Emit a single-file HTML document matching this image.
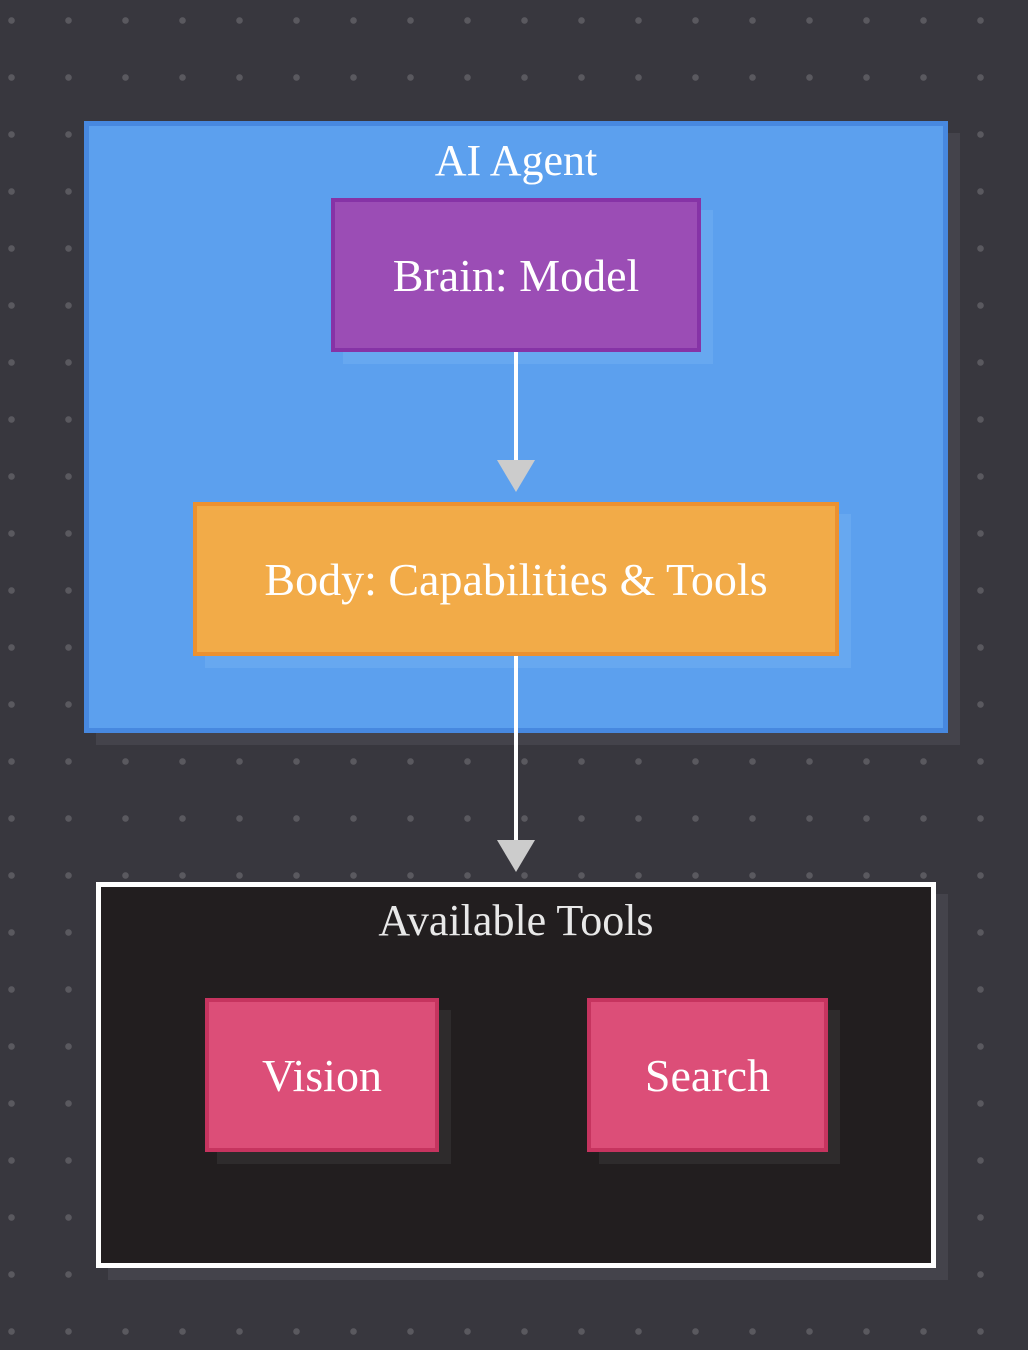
<!DOCTYPE html>
<html><head><style>
body{margin:0;width:1028px;height:1350px;background:#38373e;background-image:radial-gradient(circle,#5a595f 3px,transparent 3.5px);background-size:57px 57px;background-position:-17px -8px;position:relative;overflow:hidden;font-family:"Liberation Serif",serif;color:#fff}
.a{position:absolute;box-sizing:border-box}
.t{display:flex;align-items:center;justify-content:center;font-size:46px}
</style></head><body>
<div class="a" style="left:96px;top:133px;width:864px;height:612px;background:#44434b"></div>
<div class="a" style="left:84px;top:121px;width:864px;height:612px;background:#5ca0ee;border:5px solid #4788df"></div>
<div class="a" style="left:84px;top:135px;width:864px;text-align:center;font-size:44px">AI Agent</div>
<div class="a" style="left:343px;top:210px;width:370px;height:154px;background:#67a8f0"></div>
<div class="a t" style="left:331px;top:198px;width:370px;height:154px;background:#9b4db5;border:4px solid #8633a6">Brain: Model</div>
<div class="a" style="left:514px;top:352px;width:4px;height:110px;background:#fff"></div>
<svg class="a" style="left:497px;top:460px" width="38" height="32"><polygon points="0,0 38,0 19,32" fill="#cccccc"/></svg>
<div class="a" style="left:205px;top:514px;width:646px;height:154px;background:#67a8f0"></div>
<div class="a t" style="left:193px;top:502px;width:646px;height:154px;background:#f2ab48;border:4px solid #ec9130">Body: Capabilities &amp; Tools</div>
<div class="a" style="left:514px;top:656px;width:4px;height:186px;background:#fff"></div>
<svg class="a" style="left:497px;top:840px" width="38" height="32"><polygon points="0,0 38,0 19,32" fill="#cccccc"/></svg>
<div class="a" style="left:108px;top:894px;width:840px;height:386px;background:#44434b"></div>
<div class="a" style="left:96px;top:882px;width:840px;height:386px;background:#221e1f;border:5px solid #fff"></div>
<div class="a" style="left:96px;top:895px;width:840px;text-align:center;font-size:44px;color:#e8e8e8">Available Tools</div>
<div class="a" style="left:217px;top:1010px;width:234px;height:154px;background:#2e2b2c"></div>
<div class="a t" style="left:205px;top:998px;width:234px;height:154px;background:#dc4e78;border:4px solid #c6345f">Vision</div>
<div class="a" style="left:599px;top:1010px;width:241px;height:154px;background:#2e2b2c"></div>
<div class="a t" style="left:587px;top:998px;width:241px;height:154px;background:#dc4e78;border:4px solid #c6345f">Search</div>
</body></html>
